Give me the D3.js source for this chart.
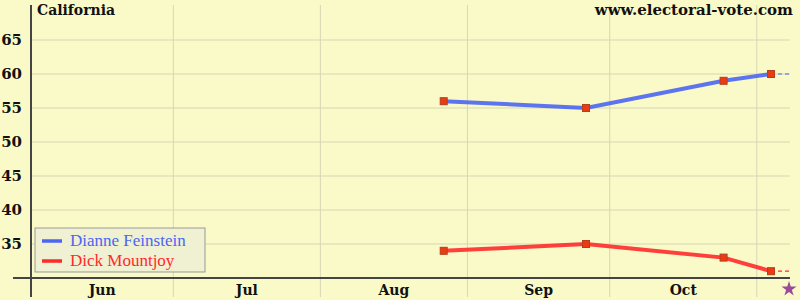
<!DOCTYPE html>
<html>
<head>
<meta charset="utf-8">
<script src="https://cdn.jsdelivr.net/npm/d3@7"></script>
<style>
  body { margin: 0; background: #fafac8; }
  text { font-family: "DejaVu Serif", serif; }
</style>
</head>
<body>
<div id="chart"></div>
<script>
var pollDates = ["2006-08-27", "2006-09-26", "2006-10-25", "2006-11-04"];
var feinstein = [56, 55, 59, 60];
var mountjoy = [34, 35, 33, 31];
var yTicks = [35, 40, 45, 50, 55, 60, 65];
var monthStarts = ["2006-06-01", "2006-07-01", "2006-08-01", "2006-09-01", "2006-10-01", "2006-11-01"];
var monthNames = ["Jun", "Jul", "Aug", "Sep", "Oct"];
var axisEnd = "2006-11-08";

var parse = d3.timeParse("%Y-%m-%d");
var width = 800, height = 300;
var margin = { left: 31, right: 790, top: 6, bottom: 278 };

var svg = d3.select("#chart").append("svg")
  .attr("width", width).attr("height", height);

svg.append("rect").attr("width", width).attr("height", height).attr("fill", "#fafac8");

var x = d3.scaleTime()
  .domain([parse("2006-06-01"), parse(axisEnd)])
  .range([margin.left, margin.right]);
var y = d3.scaleLinear().domain([30, 70]).range([margin.bottom, margin.top]);

// grid
svg.selectAll(".hgrid").data(yTicks).enter().append("line")
  .attr("x1", margin.left).attr("x2", margin.right)
  .attr("y1", d => y(d)).attr("y2", d => y(d))
  .attr("stroke", "#d6d6b4").attr("stroke-width", 1);
svg.selectAll(".vgrid").data(monthStarts.slice(1)).enter().append("line")
  .attr("x1", d => x(parse(d))).attr("x2", d => x(parse(d)))
  .attr("y1", 5).attr("y2", 297)
  .attr("stroke", "#d6d6b4").attr("stroke-width", 1);

// axes
svg.append("line").attr("x1", 13).attr("x2", margin.right).attr("y1", margin.bottom).attr("y2", margin.bottom)
  .attr("stroke", "#444").attr("stroke-width", 2);
svg.append("line").attr("x1", margin.left).attr("x2", margin.left).attr("y1", 5).attr("y2", 297)
  .attr("stroke", "#444").attr("stroke-width", 2);

svg.selectAll(".ylab").data(yTicks).enter().append("text")
  .attr("x", 22).attr("y", d => y(d) + 5)
  .attr("text-anchor", "end").attr("font-size", 15).attr("font-weight", "bold").attr("fill", "#111")
  .text(d => d);

svg.selectAll(".xlab").data(monthNames).enter().append("text")
  .attr("x", (d, i) => (x(parse(monthStarts[i])) + x(parse(monthStarts[i + 1]))) / 2)
  .attr("y", 295).attr("text-anchor", "middle").attr("font-size", 14).attr("font-weight", "bold").attr("fill", "#111")
  .text(d => d);

svg.append("text").attr("x", 37).attr("y", 15).attr("font-size", 14).attr("font-weight", "bold")
  .attr("fill", "#111").text("California");
svg.append("text").attr("x", 793).attr("y", 15).attr("text-anchor", "end").attr("font-size", 15)
  .attr("font-weight", "bold").attr("fill", "#111").text("www.electoral-vote.com");

// series
var series = [
  { name: "Dianne Feinstein", values: feinstein, color: "#4a66f2" },
  { name: "Dick Mountjoy", values: mountjoy, color: "#ff2a2a" }
];
var line = d3.line().x(d => x(d.date)).y(d => y(d.v));

series.forEach(function(s) {
  var pts = pollDates.map((d, i) => ({ date: parse(d), v: s.values[i] }));
  var last = pts[pts.length - 1];
  svg.append("line")
    .attr("x1", x(last.date)).attr("x2", x(parse(axisEnd)))
    .attr("y1", y(last.v)).attr("y2", y(last.v))
    .attr("stroke", s.color).attr("stroke-width", 1.2).attr("stroke-dasharray", "4,3");
  svg.append("path").datum(pts).attr("d", line)
    .attr("fill", "none").attr("stroke", s.color).attr("stroke-width", 4).attr("stroke-opacity", 0.9);
  svg.selectAll(null).data(pts).enter().append("rect")
    .attr("x", d => x(d.date) - 3.5).attr("y", d => y(d.v) - 3.5)
    .attr("width", 7).attr("height", 7)
    .attr("fill", "#ee3a10").attr("stroke", "#b04020").attr("stroke-width", 1);
});

// election star
var star = d3.symbol().type(d3.symbolStar).size(70);
svg.append("path").attr("d", star())
  .attr("transform", "translate(" + (x(parse(axisEnd)) - 1) + ",289)")
  .attr("fill", "#9a4a9a");

// legend
var lg = svg.append("g").attr("transform", "translate(35,228)");
lg.append("rect").attr("width", 170).attr("height", 44)
  .attr("fill", "#f0f0d2").attr("stroke", "#999").attr("stroke-width", 1);
series.forEach(function(s, i) {
  lg.append("line").attr("x1", 7).attr("x2", 27).attr("y1", 13 + i * 20).attr("y2", 13 + i * 20)
    .attr("stroke", s.color).attr("stroke-width", 3.5);
  lg.append("text").attr("x", 35).attr("y", 18 + i * 20).attr("font-size", 17)
    .style("font-family", "'Liberation Serif', serif")
    .attr("fill", s.color).text(s.name);
});
</script>
</body>
</html>
